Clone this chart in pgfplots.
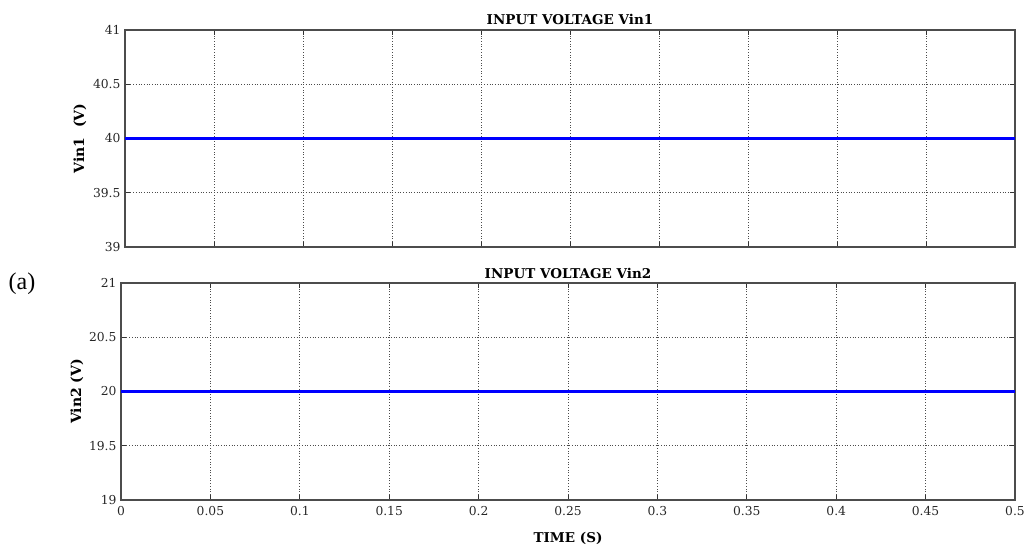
\documentclass[border=0pt]{standalone}
\usepackage{pgfplots}
\pgfplotsset{compat=1.18}
\usepackage{fontspec}
\setmainfont{DejaVu Serif}
\newfontfamily\timesfont{Liberation Serif}
\begin{document}
\begin{tikzpicture}
\useasboundingbox (0pt,0pt) rectangle (1027pt,547pt);
\pgfplotsset{
  myax/.style={
    scale only axis,
    xmin=0, xmax=0.5,
    xtick={0,0.05,0.1,0.15,0.2,0.25,0.3,0.35,0.4,0.45,0.5},
    grid=major,
    major grid style={black!70, line width=0.7pt, dash pattern=on 0.7pt off 2pt},
    axis line style={black!70, line width=1.1pt},
    major tick length=5pt,
    tick style={black!80, line width=1pt},
    tick align=inside,
    ticklabel style={font=\fontsize{12.3}{13}\selectfont, text=black!85},
    xticklabel style={yshift=-3pt},
    title style={at={(axis description cs:0.5,1)}, anchor=base, yshift=-1pt, font=\bfseries\fontsize{13.5}{15}\selectfont},
    ylabel style={anchor=center, font=\bfseries\fontsize{14}{15}\selectfont},
    xlabel style={at={(axis description cs:0.5,0)}, anchor=center, yshift=-38pt, font=\bfseries\fontsize{13.5}{15}\selectfont},
    yticklabel style={xshift=-1pt},
  }
}
\begin{axis}[myax,
  at={(125pt,300pt)}, anchor=south west,
  width=890pt, height=217pt,
  ymin=39, ymax=41,
  ytick={39,39.5,40,40.5,41},
  yticklabels={39,39.5,40,40.5,41},
  xticklabels={},
  title={INPUT VOLTAGE Vin1},
  ylabel={Vin1\ \ (V)},
  ylabel style={at={(axis description cs:-0.0506,0.5)}},
]
\addplot[blue, line width=2.4pt] coordinates {(0,40) (0.5,40)};
\end{axis}
\begin{axis}[myax,
  at={(121pt,47pt)}, anchor=south west,
  width=894pt, height=217pt,
  ymin=19, ymax=21,
  ytick={19,19.5,20,20.5,21},
  yticklabels={19,19.5,20,20.5,21},
  xticklabels={0,0.05,0.1,0.15,0.2,0.25,0.3,0.35,0.4,0.45,0.5},
  title={INPUT VOLTAGE Vin2},
  ylabel={Vin2 (V)},
  ylabel style={at={(axis description cs:-0.0492,0.5)}},
  xlabel={TIME (S)},
]
\addplot[blue, line width=2.4pt] coordinates {(0,20) (0.5,20)};
\end{axis}
\node[font=\timesfont\fontsize{24}{26}\selectfont, anchor=center] at (22pt,263pt) {(a)};
\end{tikzpicture}
\end{document}
